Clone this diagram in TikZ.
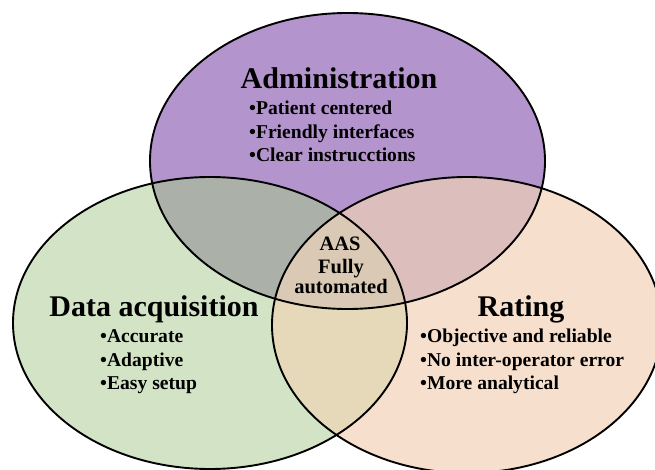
\documentclass[tikz,border=0pt]{standalone}
\usepackage{fontspec}
\setmainfont{Liberation Serif}
\definecolor{cadm}{HTML}{B494CD}
\definecolor{cdat}{HTML}{D3E4C6}
\definecolor{crat}{HTML}{F6E0CD}
\definecolor{cad}{HTML}{ABB0A9}
\definecolor{car}{HTML}{DCBEBD}
\definecolor{cdr}{HTML}{E6D9BA}
\definecolor{call}{HTML}{DACAB5}
\begin{document}
\begin{tikzpicture}[x=1pt,y=-1pt,
  title/.style={font=\fontsize{30}{32}\selectfont\bfseries, inner sep=0pt, anchor=base},
  item/.style={font=\fontsize{19.6}{23.5}\selectfont\bfseries, inner sep=0pt, anchor=base west},
  core/.style={font=\fontsize{20.5}{21.5}\selectfont\bfseries, inner sep=0pt, anchor=base},
  outline/.style={draw=black, line width=1.9pt},
  ellT/.style={insert path={(347.5,161) ellipse [x radius=197.5pt, y radius=148pt]}},
  ellL/.style={insert path={(210,323) ellipse [x radius=197pt, y radius=146pt]}},
  ellR/.style={insert path={(467,325) ellipse [x radius=195pt, y radius=148pt]}}]
\useasboundingbox (0,0) rectangle (655,470);
\begin{scope}
\clip (0,0) rectangle (655,470);
\fill[cdat, ellL];
\fill[crat, ellR];
\fill[cadm, ellT];
\begin{scope}
  \clip[ellT];
  \fill[cad, ellL];
  \fill[car, ellR];
\end{scope}
\begin{scope}
  \clip[ellL];
  \fill[cdr, ellR];
\end{scope}
\begin{scope}
  \clip[ellT];
  \clip[ellL];
  \fill[call, ellR];
\end{scope}
\path[outline, ellT];
\path[outline, ellL];
\path[outline, ellR];
\end{scope}

\node[title] (tadm) at (339,89) {Administration};
\node[item] (a1) at (249,115) {\textbullet{}Patient centered};
\node[item] (a2) at (249,138.5) {\textbullet{}Friendly interfaces};
\node[item] (a3) at (249,162) {\textbullet{}Clear instrucctions};

\node[title] (tdat) at (154,316) {Data acquisition};
\node[item] (d1) at (100,342.5) {\textbullet{}Accurate};
\node[item] (d2) at (100,366) {\textbullet{}Adaptive};
\node[item] (d3) at (100,389.5) {\textbullet{}Easy setup};

\node[title] (trat) at (521,316) {Rating};
\node[item] (r1) at (420,342.5) {\textbullet{}Objective and reliable};
\node[item] (r2) at (420,366) {\textbullet{}No inter-operator error};
\node[item] (r3) at (420,389.5) {\textbullet{}More analytical};

\node[core] (c1) at (340,251) {AAS};
\node[core] (c2) at (341,273) {Fully};
\node[core] (c3) at (341,293) {automated};
\end{tikzpicture}
\end{document}
